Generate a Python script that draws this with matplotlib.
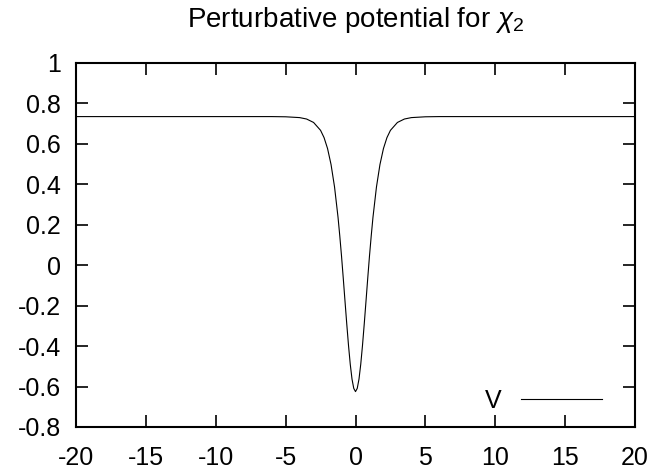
import matplotlib
matplotlib.use("Agg")
import matplotlib.pyplot as plt

plt.rcParams['font.family'] = ['Liberation Sans', 'DejaVu Sans']
plt.rcParams['mathtext.fontset'] = 'custom'
plt.rcParams['mathtext.rm'] = 'Liberation Sans'
plt.rcParams['mathtext.it'] = 'Liberation Sans:italic'

# Values (symmetric well around x = 0)
x_vals = [-20, -10, -6, -5, -4, -3.5, -3, -2.5, -2.25, -2, -1.75, -1.5, -1.25,
          -1.125, -1, -0.875, -0.75, -0.625, -0.5, -0.375, -0.25, -0.125, 0,
          0.125, 0.25, 0.375, 0.5, 0.625, 0.75, 0.875, 1, 1.125, 1.25, 1.5,
          1.75, 2, 2.25, 2.5, 3, 3.5, 4, 5, 6, 10, 20]
v_vals = [0.735, 0.735, 0.735, 0.734, 0.730, 0.723, 0.706, 0.667, 0.631, 0.577,
          0.498, 0.387, 0.237, 0.145, 0.045, -0.065, -0.179, -0.291, -0.397,
          -0.490, -0.563, -0.609, -0.625, -0.609, -0.563, -0.490, -0.397,
          -0.291, -0.179, -0.065, 0.045, 0.145, 0.237, 0.387, 0.498, 0.577,
          0.631, 0.667, 0.706, 0.723, 0.730, 0.734, 0.735, 0.735, 0.735]

x_ticks = [-20, -15, -10, -5, 0, 5, 10, 15, 20]
y_ticks = [-0.8, -0.6, -0.4, -0.2, 0, 0.2, 0.4, 0.6, 0.8, 1]
y_tick_labels = ['-0.8', '-0.6', '-0.4', '-0.2', '0', '0.2', '0.4', '0.6', '0.8', '1']
title = r'Perturbative potential for $\chi_{\mathrm{2}}$'
series_label = 'V'

W, H = 657, 470
fig = plt.figure(figsize=(W / 100, H / 100), dpi=100)
L, R, T, B = 76, 635, 63, 427
ax = fig.add_axes([L / W, 1 - B / H, (R - L) / W, (B - T) / H])

ax.plot(x_vals, v_vals, color='black', lw=0.8, label=series_label)

ax.set_xlim(-20, 20)
ax.set_ylim(-0.8, 1)
ax.set_xticks(x_ticks)
ax.set_xticklabels([str(t) for t in x_ticks])
ax.set_yticks(y_ticks)
ax.set_yticklabels(y_tick_labels)
ax.tick_params(direction='in', length=8.5, width=1.2, top=True, right=True,
               labelsize=18)
ax.tick_params(axis='x', pad=14)
ax.tick_params(axis='y', pad=11)
for s in ax.spines.values():
    s.set_linewidth(1.5)

ax.legend(loc='center right', bbox_to_anchor=((602 - L) / (R - L), (B - 401) / (B - T)),
          frameon=False, markerfirst=False, fontsize=18, handlelength=3.25,
          handletextpad=0.75, borderpad=0, borderaxespad=0)

fig.text((L + R) / 2 / W, 1 - 26.7 / H, title, ha='center', va='baseline', fontsize=20)

fig.savefig('out.png', dpi=100)
